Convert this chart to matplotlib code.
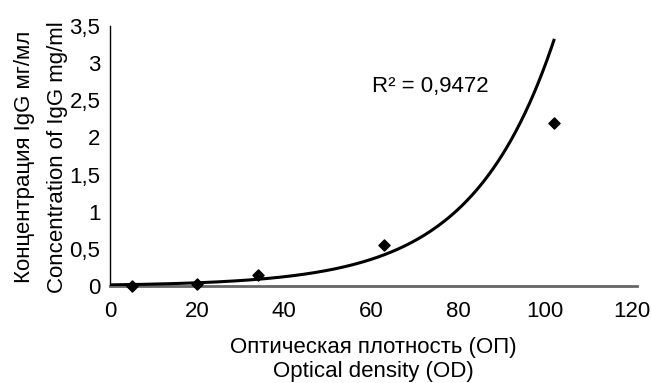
import numpy as np
import matplotlib.pyplot as plt
from matplotlib.ticker import FuncFormatter

# measured points
od = [5, 20, 34, 63, 102]
conc = [0.0, 0.03, 0.15, 0.55, 2.2]

# exponential trend y = a*exp(b*x)
trend_a = 0.0150
trend_b = 0.0529
r2_text = "R² = 0,9472"

xticks = [0, 20, 40, 60, 80, 100, 120]
yticks = [0, 0.5, 1, 1.5, 2, 2.5, 3, 3.5]

plt.rcParams['font.family'] = ['Liberation Sans Narrow', 'Liberation Sans', 'DejaVu Sans']

fig = plt.figure(figsize=(6.51, 3.83), dpi=100)
ax = fig.add_axes([110/651, 1-286/383, 527/651, 260/383])

xs = np.linspace(0, max(od), 200)
ax.plot(xs, trend_a*np.exp(trend_b*xs), color='black', lw=2.2, zorder=3)
ax.scatter(od, conc, marker='D', s=32, color='black', zorder=4, clip_on=False)

ax.set_xlim(0, 121.1)
ax.set_ylim(0, 3.5)
ax.set_xticks(xticks)
ax.set_yticks(yticks)
ax.yaxis.set_major_formatter(FuncFormatter(lambda v, p: ('%g' % v).replace('.', ',')))
ax.tick_params(length=0, labelsize=16)
ax.tick_params(axis='y', pad=7)
ax.tick_params(axis='x', pad=11)

for s in ['top', 'right']:
    ax.spines[s].set_visible(False)
ax.spines['left'].set_color('black')
ax.spines['left'].set_linewidth(1)
ax.spines['bottom'].set_color('#666666')
ax.spines['bottom'].set_linewidth(2)

ax.text(60.3, 2.68, r2_text, fontsize=16, va='center', ha='left')

fig.text(25/651, 1-157/383, "Концентрация IgG мг/мл", rotation=90,
         fontsize=16, ha='center', va='center')
fig.text(57/651, 1-157/383, "Concentration of IgG mg/ml", rotation=90,
         fontsize=16, ha='center', va='center')
fig.text(373/651, 1-347/383, "Оптическая плотность (ОП)", fontsize=16,
         ha='center', va='center')
fig.text(373/651, 1-372/383, "Optical density (OD)", fontsize=16,
         ha='center', va='center')

fig.savefig('out.png', dpi=100)
